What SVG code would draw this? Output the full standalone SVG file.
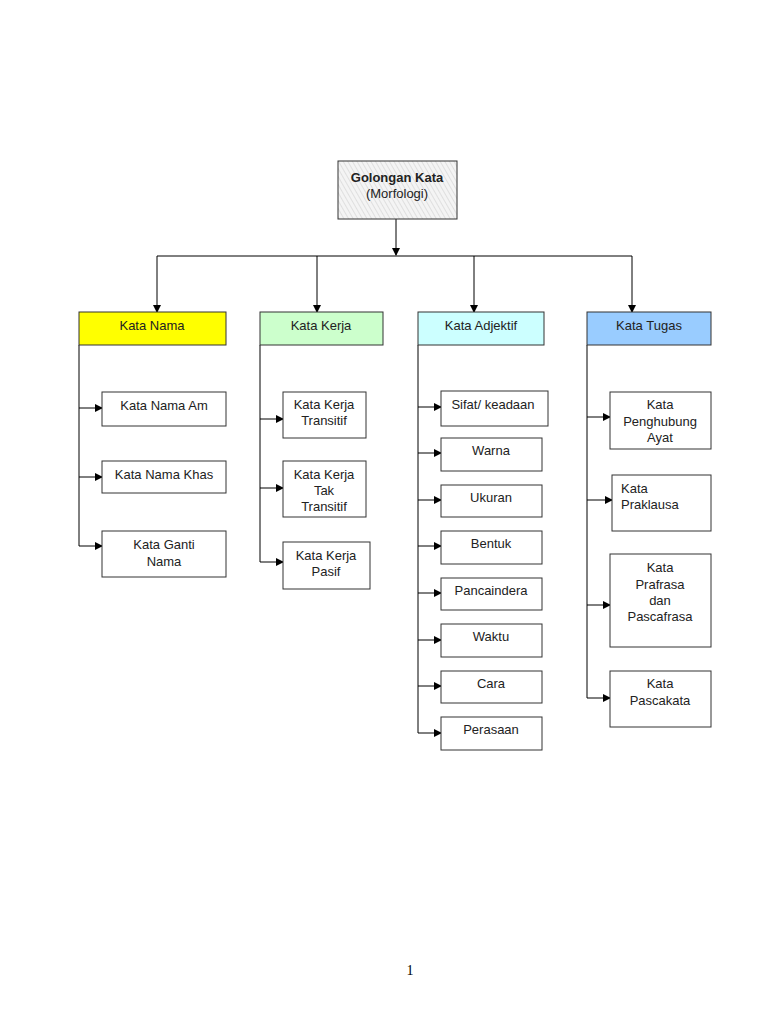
<svg xmlns="http://www.w3.org/2000/svg" width="768" height="1024" viewBox="0 0 768 1024">
<defs>
<marker id="arr" markerWidth="8" markerHeight="8" refX="7" refY="4" orient="auto" markerUnits="userSpaceOnUse">
<path d="M0,0 L8,4 L0,8 Z" fill="#000"/>
</marker>
<pattern id="hatch" width="4" height="4" patternUnits="userSpaceOnUse" patternTransform="rotate(-30)">
<rect width="4" height="4" fill="#f4f4f4"/>
<line x1="0" y1="0" x2="0" y2="4" stroke="#d8d8d8" stroke-width="1.5"/>
</pattern>
</defs>
<style>
.box{stroke:#333;stroke-width:1;fill:#fff}
.t{font-family:"Liberation Sans",Arial,sans-serif;font-size:13px;fill:#222;text-anchor:middle}
.l{text-anchor:start}
.c{fill:none;stroke:#000;stroke-width:1}
</style>
<rect width="768" height="1024" fill="#fff"/>

<g id="connectors">
<line class="c" x1="396" y1="219" x2="396" y2="255" marker-end="url(#arr)"/>
<polyline class="c" points="157,256 632,256"/>
<line class="c" x1="157" y1="256" x2="157" y2="312" marker-end="url(#arr)"/>
<line class="c" x1="317" y1="256" x2="317" y2="312" marker-end="url(#arr)"/>
<line class="c" x1="474" y1="256" x2="474" y2="312" marker-end="url(#arr)"/>
<line class="c" x1="632" y1="256" x2="632" y2="312" marker-end="url(#arr)"/>
<line class="c" x1="79" y1="345" x2="79" y2="546"/>
<line class="c" x1="79" y1="408" x2="102" y2="408" marker-end="url(#arr)"/>
<line class="c" x1="79" y1="477" x2="102" y2="477" marker-end="url(#arr)"/>
<line class="c" x1="79" y1="546" x2="102" y2="546" marker-end="url(#arr)"/>
<line class="c" x1="260" y1="345" x2="260" y2="562"/>
<line class="c" x1="260" y1="419" x2="283" y2="419" marker-end="url(#arr)"/>
<line class="c" x1="260" y1="488" x2="283" y2="488" marker-end="url(#arr)"/>
<line class="c" x1="260" y1="562" x2="283" y2="562" marker-end="url(#arr)"/>
<line class="c" x1="418" y1="345" x2="418" y2="733"/>
<line class="c" x1="418" y1="407" x2="441" y2="407" marker-end="url(#arr)"/>
<line class="c" x1="418" y1="453" x2="441" y2="453" marker-end="url(#arr)"/>
<line class="c" x1="418" y1="500" x2="441" y2="500" marker-end="url(#arr)"/>
<line class="c" x1="418" y1="546" x2="441" y2="546" marker-end="url(#arr)"/>
<line class="c" x1="418" y1="593" x2="441" y2="593" marker-end="url(#arr)"/>
<line class="c" x1="418" y1="640" x2="441" y2="640" marker-end="url(#arr)"/>
<line class="c" x1="418" y1="686" x2="441" y2="686" marker-end="url(#arr)"/>
<line class="c" x1="418" y1="733" x2="441" y2="733" marker-end="url(#arr)"/>
<line class="c" x1="587" y1="345" x2="587" y2="698"/>
<line class="c" x1="587" y1="417" x2="610" y2="417" marker-end="url(#arr)"/>
<line class="c" x1="587" y1="500" x2="612" y2="500" marker-end="url(#arr)"/>
<line class="c" x1="587" y1="605" x2="610" y2="605" marker-end="url(#arr)"/>
<line class="c" x1="587" y1="698" x2="610" y2="698" marker-end="url(#arr)"/>
</g>

<g id="root">
<rect class="box" x="338" y="161" width="119" height="58" style="fill:url(#hatch)"/>
<text class="t" x="397" y="182" font-weight="bold">Golongan Kata</text>
<text class="t" x="397" y="198">(Morfologi)</text>
</g>

<g id="kata-nama">
<rect class="box" x="79" y="312" width="147" height="33" style="fill:#ffff00"/>
<text class="t" x="152" y="330">Kata Nama</text>
</g>
<g id="kata-kerja">
<rect class="box" x="260" y="312" width="123" height="33" style="fill:#ccffcc"/>
<text class="t" x="321" y="330">Kata Kerja</text>
</g>
<g id="kata-adjektif">
<rect class="box" x="418" y="312" width="126" height="33" style="fill:#ccffff"/>
<text class="t" x="481" y="330">Kata Adjektif</text>
</g>
<g id="kata-tugas">
<rect class="box" x="587" y="312" width="124" height="33" style="fill:#99ccff"/>
<text class="t" x="649" y="330">Kata Tugas</text>
</g>

<g id="kata-nama-am">
<rect class="box" x="102" y="392" width="124" height="34"/>
<text class="t" x="164" y="410">Kata Nama Am</text>
</g>
<g id="kata-nama-khas">
<rect class="box" x="102" y="461" width="124" height="32"/>
<text class="t" x="164" y="479">Kata Nama Khas</text>
</g>
<g id="kata-ganti-nama">
<rect class="box" x="102" y="531" width="124" height="46"/>
<text class="t" x="164" y="549">Kata Ganti</text>
<text class="t" x="164" y="566">Nama</text>
</g>

<g id="kata-kerja-transitif">
<rect class="box" x="283" y="392" width="83" height="46"/>
<text class="t" x="324" y="409">Kata Kerja</text>
<text class="t" x="324" y="425">Transitif</text>
</g>
<g id="kata-kerja-tak-transitif">
<rect class="box" x="283" y="461" width="83" height="56"/>
<text class="t" x="324" y="479">Kata Kerja</text>
<text class="t" x="324" y="495">Tak</text>
<text class="t" x="324" y="511">Transitif</text>
</g>
<g id="kata-kerja-pasif">
<rect class="box" x="283" y="542" width="87" height="47"/>
<text class="t" x="326" y="560">Kata Kerja</text>
<text class="t" x="326" y="576">Pasif</text>
</g>

<g id="sifat-keadaan">
<rect class="box" x="441" y="391" width="107" height="35"/>
<text class="t" x="493" y="409">Sifat/ keadaan</text>
</g>
<g id="warna">
<rect class="box" x="441" y="438" width="101" height="33"/>
<text class="t" x="491" y="455">Warna</text>
</g>
<g id="ukuran">
<rect class="box" x="441" y="485" width="101" height="32"/>
<text class="t" x="491" y="502">Ukuran</text>
</g>
<g id="bentuk">
<rect class="box" x="441" y="531" width="101" height="33"/>
<text class="t" x="491" y="548">Bentuk</text>
</g>
<g id="pancaindera">
<rect class="box" x="441" y="578" width="101" height="32"/>
<text class="t" x="491" y="595">Pancaindera</text>
</g>
<g id="waktu">
<rect class="box" x="441" y="624" width="101" height="33"/>
<text class="t" x="491" y="641">Waktu</text>
</g>
<g id="cara">
<rect class="box" x="441" y="671" width="101" height="32"/>
<text class="t" x="491" y="688">Cara</text>
</g>
<g id="perasaan">
<rect class="box" x="441" y="717" width="101" height="33"/>
<text class="t" x="491" y="734">Perasaan</text>
</g>

<g id="kata-penghubung-ayat">
<rect class="box" x="610" y="392" width="101" height="57"/>
<text class="t" x="660" y="409">Kata</text>
<text class="t" x="660" y="426">Penghubung</text>
<text class="t" x="660" y="442">Ayat</text>
</g>
<g id="kata-praklausa">
<rect class="box" x="612" y="475" width="99" height="56"/>
<text class="t l" x="621" y="493">Kata</text>
<text class="t l" x="621" y="509">Praklausa</text>
</g>
<g id="kata-prafrasa">
<rect class="box" x="610" y="554" width="101" height="93"/>
<text class="t" x="660" y="572">Kata</text>
<text class="t" x="660" y="589">Prafrasa</text>
<text class="t" x="660" y="605">dan</text>
<text class="t" x="660" y="621">Pascafrasa</text>
</g>
<g id="kata-pascakata">
<rect class="box" x="610" y="671" width="101" height="56"/>
<text class="t" x="660" y="688">Kata</text>
<text class="t" x="660" y="705">Pascakata</text>
</g>

<text x="410" y="975" font-family="Liberation Serif,serif" font-size="14" fill="#000" text-anchor="middle">1</text>
</svg>
